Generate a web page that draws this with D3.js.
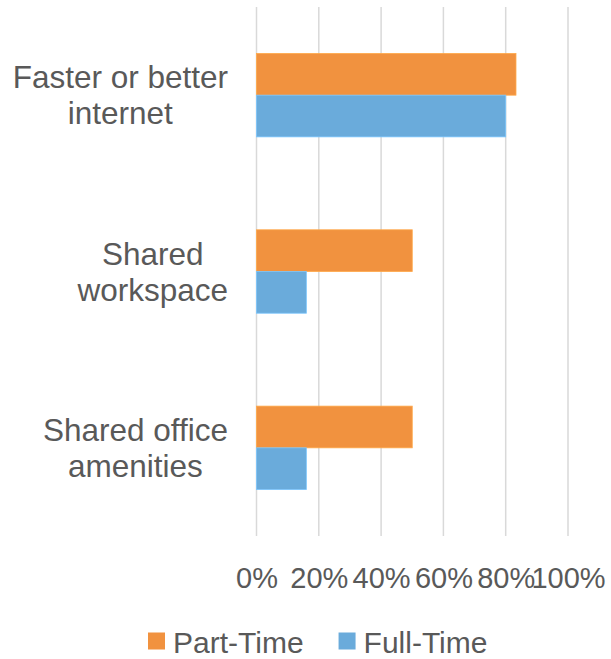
<!DOCTYPE html>
<html>
<head>
<meta charset="utf-8">
<script src="https://cdn.jsdelivr.net/npm/d3@7"></script>
<style>
  html, body { margin: 0; padding: 0; background: #fff; }
  svg { display: block; }
  text { font-family: "Liberation Sans", Arial, sans-serif; fill: #595959; }
</style>
</head>
<body>
<svg id="chart" width="611" height="659"></svg>
<script>
// Categories, each label split into its wrapped lines
const categories = ["Faster or better internet", "Shared workspace", "Shared office amenities"];
const categoryLines = [["Faster or better", "internet"], ["Shared", "workspace"], ["Shared office", "amenities"]];
const seriesNames = ["Part-Time", "Full-Time"];
const partTime = [0.833, 0.50, 0.50];
const fullTime = [0.80, 0.16, 0.16];
const tickValues = [0, 0.2, 0.4, 0.6, 0.8, 1.0];
const colors = ["#F1923F", "#6AABDB"];

const svg = d3.select("#chart");
const plot = { left: 256.5, right: 568, top: 7, bottom: 536 };

const x = d3.scaleLinear().domain([0, 1]).range([plot.left, plot.right]);
const y0 = d3.scaleBand().domain(categories).range([plot.top, plot.bottom])
  .paddingInner(0.527).paddingOuter(0.2635);
const y1 = d3.scaleBand().domain(seriesNames).range([0, y0.bandwidth()]);

// Vertical gridlines
svg.append("g")
  .selectAll("line")
  .data(tickValues)
  .join("line")
  .attr("x1", d => x(d)).attr("x2", d => x(d))
  .attr("y1", plot.top).attr("y2", plot.bottom)
  .attr("stroke", "#d9d9d9")
  .attr("stroke-width", 1.5);

// Bars
const rows = categories.map((c, i) => ({ cat: c, values: [partTime[i], fullTime[i]] }));
const groups = svg.append("g")
  .selectAll("g")
  .data(rows)
  .join("g")
  .attr("transform", d => `translate(0,${y0(d.cat)})`);

groups.selectAll("rect")
  .data(d => d.values.map((v, j) => ({ series: seriesNames[j], v, j })))
  .join("rect")
  .attr("x", x(0))
  .attr("y", d => y1(d.series))
  .attr("width", d => x(d.v) - x(0))
  .attr("height", y1.bandwidth())
  .attr("fill", d => colors[d.j])
  .attr("stroke", d => d3.color(colors[d.j]).brighter(0.4))
  .attr("stroke-width", 0.8);

// X axis tick labels
const xAxis = d3.axisBottom(x)
  .tickValues(tickValues)
  .tickFormat(d3.format(".0%"))
  .tickSize(0)
  .tickPadding(0);
const gx = svg.append("g")
  .attr("transform", `translate(0,${plot.bottom})`)
  .call(xAxis);
gx.select(".domain").remove();
gx.selectAll("text")
  .attr("dy", null)
  .attr("y", 52)
  .attr("font-size", 29)
  .attr("font-family", "Liberation Sans, Arial, sans-serif")
  .attr("fill", "#595959");

// Category labels: wrapped lines centred within a block right-aligned to the plot
const labelRight = 228;
const lineGap = 36;
const fontSize = 31.5;
const catG = svg.append("g").attr("font-size", fontSize);
categories.forEach((c, i) => {
  const lines = categoryLines[i];
  const cy = y0(c) + y0.bandwidth() / 2;
  const g = catG.append("g");
  const texts = lines.map((ln, k) => g.append("text")
    .attr("text-anchor", "middle")
    .attr("y", cy + 11.3 + (k - (lines.length - 1) / 2) * lineGap)
    .text(ln));
  const w = d3.max(texts, t => t.node().getComputedTextLength());
  texts.forEach(t => t.attr("x", labelRight - w / 2));
});

// Legend
const legend = svg.append("g").attr("font-size", 30);
let lx = 148;
seriesNames.forEach((s, j) => {
  legend.append("rect")
    .attr("x", lx).attr("y", 632.5)
    .attr("width", 17).attr("height", 17)
    .attr("fill", colors[j]);
  const t = legend.append("text")
    .attr("x", lx + 25).attr("y", 652.5)
    .text(s);
  lx += 25 + t.node().getComputedTextLength() + 35;
});
</script>
</body>
</html>
